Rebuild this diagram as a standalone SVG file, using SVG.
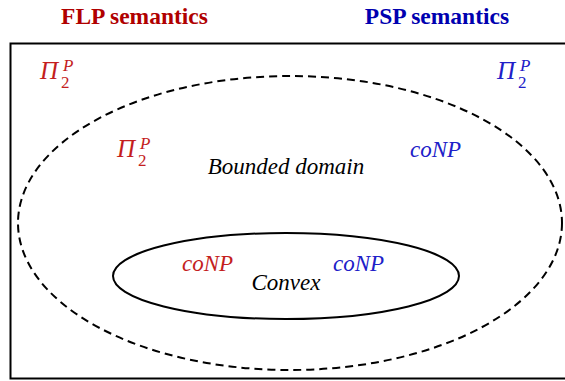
<svg xmlns="http://www.w3.org/2000/svg" width="565" height="381" viewBox="0 0 565 381">
<style>
.title{font-family:"Liberation Serif",serif;font-weight:bold;font-size:23.5px;text-anchor:middle}
.m{font-family:"Liberation Serif",serif;font-style:italic;font-size:23px}
.pi{font-size:25px}
.s{font-size:17px}
.up{font-style:normal}
.red{fill:#c41e1e}
.blue{fill:#2020c8}
.blk{fill:#000}
.frame{fill:none;stroke:#000;stroke-width:2}
.dash{fill:none;stroke:#000;stroke-width:2;stroke-dasharray:8 5}
.solid{fill:none;stroke:#000;stroke-width:2}
</style>
<text class="title" x="134.5" y="24" fill="#b00000">FLP semantics</text>
<text class="title" x="437" y="24" fill="#0000b0">PSP semantics</text>
<rect class="frame" x="10.5" y="43.5" width="570" height="335"/>
<g id="bounded">
<ellipse class="dash" cx="290" cy="223" rx="272" ry="147"/>
<text class="m blk" x="286" y="174" text-anchor="middle">Bounded domain</text>
</g>
<g id="convex">
<ellipse class="solid" cx="286" cy="276" rx="173" ry="43"/>
<text class="m blk" x="286" y="290" text-anchor="middle">Convex</text>
</g>
<g id="flp-outer"><text class="m red"><tspan class="pi" x="40" y="79">Π</tspan><tspan class="s up" x="61" y="88">2</tspan><tspan class="s" x="63" y="71">P</tspan></text></g>
<g id="psp-outer"><text class="m blue"><tspan class="pi" x="497" y="79">Π</tspan><tspan class="s up" x="518" y="88">2</tspan><tspan class="s" x="520" y="71">P</tspan></text></g>
<g id="flp-bounded"><text class="m red"><tspan class="pi" x="117" y="157">Π</tspan><tspan class="s up" x="138" y="166">2</tspan><tspan class="s" x="140" y="149">P</tspan></text></g>
<g id="psp-bounded"><text class="m blue" x="410" y="157">coNP</text></g>
<g id="flp-convex"><text class="m red" x="182" y="271">coNP</text></g>
<g id="psp-convex"><text class="m blue" x="333" y="271">coNP</text></g>
<g id="connectors"/>
</svg>
